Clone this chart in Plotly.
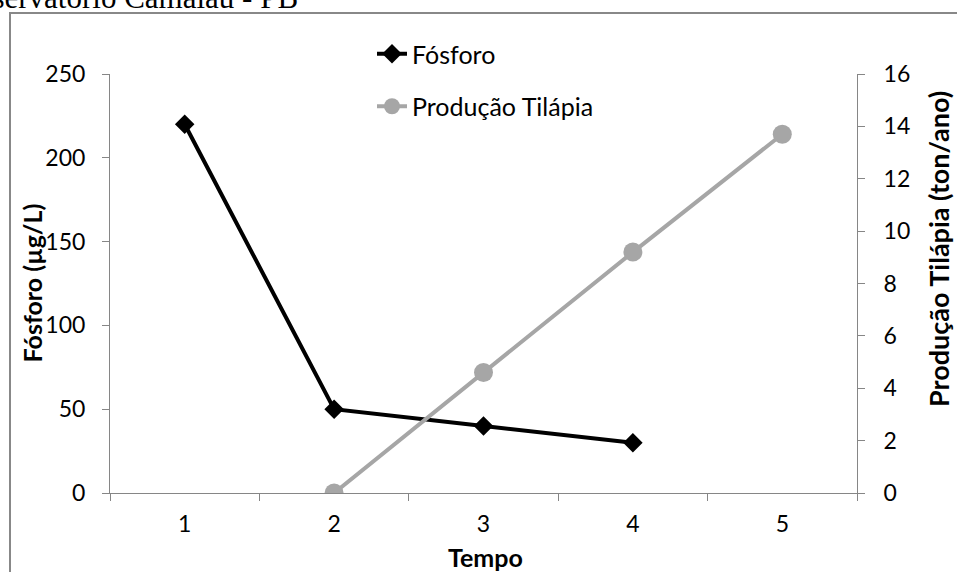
import plotly.graph_objects as go

# ---- data ----
tempo = ["1", "2", "3", "4", "5"]
fosforo_x = ["1", "2", "3", "4"]
fosforo = [220, 50, 40, 30]
tilapia_x = ["2", "3", "4", "5"]
tilapia = [0, 4.6, 9.2, 13.7]
y1_ticks = [0, 50, 100, 150, 200, 250]
y2_ticks = [0, 2, 4, 6, 8, 10, 12, 14, 16]

W, H = 957, 572
L, R, T, B = 110, 100, 74, 79
PW, PH = W - L - R, H - T - B


def px_x(px):
    return (px - L) / PW


def px_y(py):
    return (H - B - py) / PH


FONT = "Lato"
fig = go.Figure()
fig.add_trace(go.Scatter(
    x=fosforo_x, y=fosforo, name="Fósforo", mode="lines+markers",
    line=dict(color="#000000", width=4),
    marker=dict(symbol="diamond", size=15, color="#000000"),
    legendgroup="a", yaxis="y"))
fig.add_trace(go.Scatter(
    x=tilapia_x, y=tilapia, name="Produção Tilápia", mode="lines+markers",
    line=dict(color="#A6A6A6", width=4),
    marker=dict(symbol="circle", size=19, color="#A6A6A6"),
    legendgroup="b", yaxis="y2"))

axis_common = dict(showgrid=False, zeroline=False, showline=True,
                   linecolor="#868686", linewidth=1, ticks="outside",
                   tickcolor="#868686", ticklen=7,
                   tickfont=dict(family=FONT, size=23, color="#000000"))

fig.update_layout(
    width=W, height=H,
    margin=dict(l=L, r=R, t=T, b=B, pad=0),
    paper_bgcolor="white", plot_bgcolor="white",
    xaxis=dict(type="category", categoryorder="array", categoryarray=tempo,
               tickson="boundaries", range=[-0.5, 4.5], ticklabelstandoff=10,
               **axis_common),
    yaxis=dict(range=[0, 250], tickvals=y1_ticks, ticklabelstandoff=12,
               **axis_common),
    yaxis2=dict(range=[0, 16], tickvals=y2_ticks, overlaying="y", side="right",
                ticklabelstandoff=14, **axis_common),
    showlegend=True,
    legend=dict(x=px_x(372), y=px_y(31), xanchor="left", yanchor="top",
                bgcolor="rgba(0,0,0,0)", tracegroupgap=17,
                font=dict(family=FONT, size=25, color="#000000")),
    shapes=[dict(type="rect", xref="paper", yref="paper",
                 x0=px_x(10), x1=px_x(1010), y0=px_y(640), y1=px_y(13),
                 line=dict(color="#888888", width=2), fillcolor="rgba(0,0,0,0)",
                 layer="below")],
    annotations=[
        dict(text="<b>Fósforo (µg/L)</b>", xref="paper", yref="paper",
             x=px_x(31), y=0.5, textangle=-90, showarrow=False,
             xanchor="center", yanchor="middle",
             font=dict(family=FONT, size=25, color="#000000")),
        dict(text="<b>Produção Tilápia (ton/ano)</b>", xref="paper", yref="paper",
             x=px_x(938), y=px_y(249), textangle=-90, showarrow=False,
             xanchor="center", yanchor="middle",
             font=dict(family=FONT, size=27, color="#000000")),
        dict(text="<b>Tempo</b>", xref="paper", yref="paper",
             x=px_x(485), y=px_y(557), showarrow=False,
             xanchor="center", yanchor="middle",
             font=dict(family=FONT, size=25, color="#000000")),
        dict(text="Reservatório Camalaú - PB", xref="paper", yref="paper",
             x=px_x(300), y=px_y(17), showarrow=False,
             xanchor="right", yanchor="bottom",
             font=dict(family="Liberation Serif", size=31, color="#000000")),
    ],
)

fig.write_html("out.html")
